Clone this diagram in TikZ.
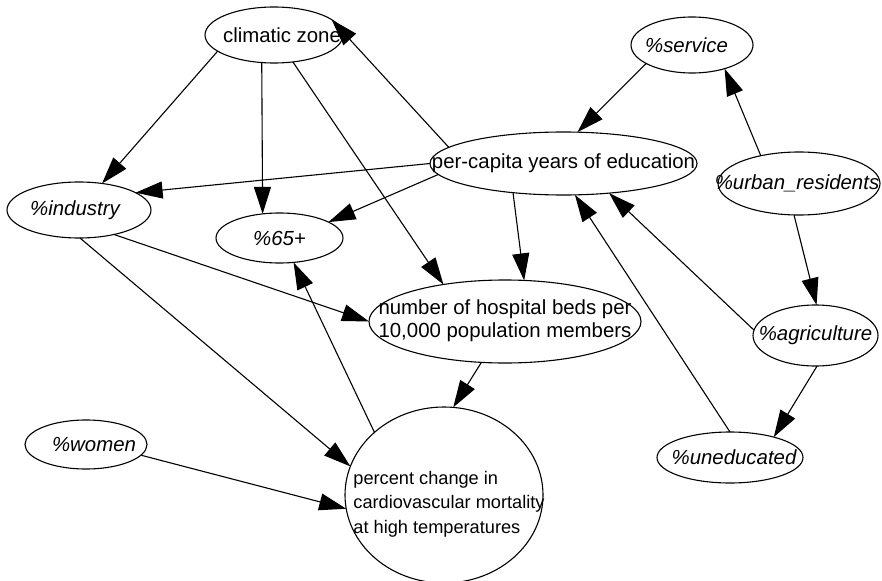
\documentclass[tikz,border=0pt]{standalone}
\usepackage{fontspec}
\setmainfont{Liberation Sans}
\usetikzlibrary{arrows.meta,shapes.geometric}

% label of zero width, so that the ellipse keeps its given size
\newcommand{\lbl}[2][0pt]{\makebox[0pt]{\hspace*{#1}#2}}

\begin{document}
\begin{tikzpicture}[x=1pt,y=-1pt,->,>={Triangle[length=27pt,width=17pt]},line width=1.1pt,
  factor/.style 2 args={draw,ellipse,minimum width=#1,minimum height=#2,inner sep=0pt,
    outer sep=0pt,font=\fontsize{20.4}{23}\selectfont},
  share/.style={font=\fontsize{20.4}{23}\selectfont\itshape}]

\useasboundingbox (0,0) rectangle (882,580);

\node[factor={138}{56}] (cz) at (274,35) {\lbl[16pt]{climatic zone}};
\node[factor={122}{56},share] (svc) at (692,45) {\lbl[-11pt]{\%service}};
\node[factor={267}{63}] (edu) at (563.5,163.5) {\lbl{per-capita years of education}};
\node[factor={162}{63},share] (urb) at (799,183.5) {\lbl[-4pt]{\%urban\_residents}};
\node[factor={144}{56},share] (ind) at (79,210) {\lbl[-8pt]{\%industry}};
\node[factor={127}{50},share] (old) at (279.5,238) {\lbl{\%65+}};
\node[factor={272}{83}] (beds) at (505,321.5)
  {\lbl{\begin{tabular}{@{}l@{}}number of hospital beds per\\10,000 population members\end{tabular}}};
\node[factor={125}{61},share] (agri) at (815.5,335.5) {\lbl{\%agriculture}};
\node[factor={122}{49},share] (wom) at (86,444.5) {\lbl[16pt]{\%women}};
\node[factor={146}{51},share] (uned) at (730,457.5) {\lbl[8pt]{\%uneducated}};
\node[factor={198}{176},font=\fontsize{18.2}{24.5}\selectfont] (cvd) at (444,495)
  {\lbl[10pt]{\raisebox{-13pt}[0pt][0pt]{\begin{tabular}{@{}l@{}}percent change in\\
    cardiovascular mortality\\at high temperatures\end{tabular}}}};

\path (cz.196) edge (ind.49)
  (cz.246) edge (old.125)
  (cz.305) edge (beds.149)
  (edu.172) edge (cz.15)
  (edu.180) edge (ind.17)
  (edu.185) edge (old.18)
  (edu.210) edge (beds.65)
  (svc.202) edge (edu.66)
  (urb.144) edge (svc.324)
  (urb.261) edge (agri.88)
  (agri.175) edge (edu.327)
  (uned.90) edge (edu.290)
  (agri.273) edge (uned.25)
  (ind.325) edge (beds.180)
  (ind.272) edge (cvd.163)
  (beds.240) edge (cvd.84)
  (cvd.138) edge (old.300)
  (wom.349) edge (cvd.188);

\end{tikzpicture}
\end{document}
